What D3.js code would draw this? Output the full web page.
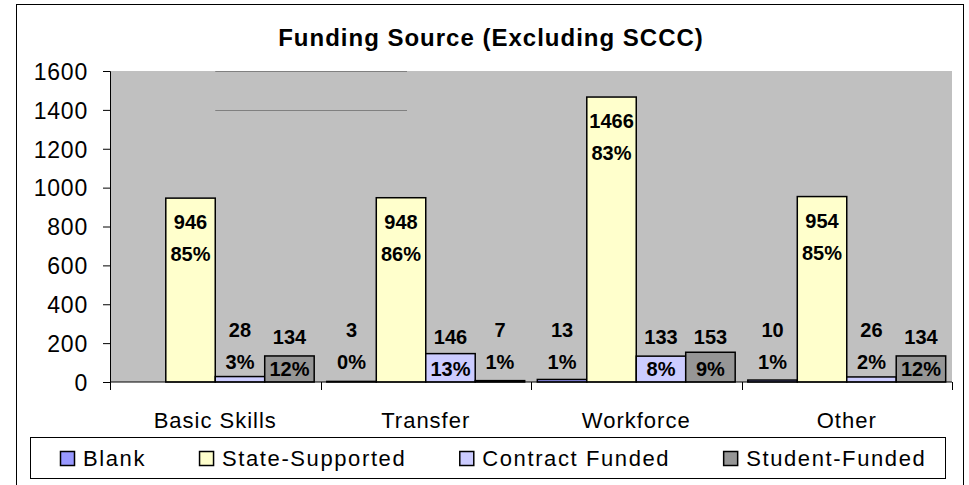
<!DOCTYPE html>
<html>
<head>
<meta charset="utf-8">
<script src="https://cdn.jsdelivr.net/npm/d3@7"></script>
<style>
  body { margin: 0; background: #fff; }
  text { font-family: "Liberation Sans", Arial, sans-serif; fill: #000; }
</style>
</head>
<body>
<div id="chart"></div>
<script>
var width = 969;
var height = 485;
var fontFamily = "'Liberation Sans', Arial, sans-serif";

// data
var categories = ["Basic Skills", "Transfer", "Workforce", "Other"];
var series = ["Blank", "State-Supported", "Contract Funded", "Student-Funded"];
var blank = [null, 3, 13, 10];
var stateSupported = [946, 948, 1466, 954];
var contractFunded = [28, 146, 133, 26];
var studentFunded = [134, 7, 153, 134];
var yTicks = [0, 200, 400, 600, 800, 1000, 1200, 1400, 1600];
var colors = ["#9999FF", "#FFFFCC", "#CCCCFF", "#969696"];

var seriesValues = [blank, stateSupported, contractFunded, studentFunded];

var rows = [];
categories.forEach(function (c, i) {
  var total = d3.sum(seriesValues, function (s) { return s[i] || 0; });
  series.forEach(function (s, j) {
    rows.push({ cat: c, series: s, idx: j, value: seriesValues[j][i], total: total });
  });
});

var plot = { left: 110, right: 952, top: 71, bottom: 382 };

var svg = d3.select("#chart").append("svg")
  .attr("width", width)
  .attr("height", height);

// outer frame
svg.append("rect")
  .attr("x", 16.5).attr("y", 4.5)
  .attr("width", 947).attr("height", 490)
  .attr("fill", "#fff").attr("stroke", "#000").attr("stroke-width", 1);

var yScale = d3.scaleLinear().domain([0, 1600]).range([plot.bottom, plot.top]);
var x0 = d3.scaleBand().domain(categories).range([plot.left, plot.right])
  .paddingInner(0.06).paddingOuter(0.03);
var x1 = d3.scaleBand().domain(series).range([0, x0.bandwidth()]);

// plot area
svg.append("rect")
  .attr("x", plot.left).attr("y", plot.top)
  .attr("width", plot.right - plot.left).attr("height", plot.bottom - plot.top)
  .attr("fill", "#C0C0C0");

// stray gridline pieces seen in the original
[1400, 1600].forEach(function (v) {
  svg.append("line")
    .attr("x1", x0("Basic Skills") + x1("Contract Funded")).attr("x2", 407)
    .attr("y1", Math.round(yScale(v)) + 0.5).attr("y2", Math.round(yScale(v)) + 0.5)
    .attr("stroke", "#808080").attr("stroke-width", 1);
});

// title
svg.append("text")
  .attr("x", 491).attr("y", 46)
  .attr("text-anchor", "middle")
  .attr("font-size", "24px").attr("font-weight", "bold")
  .attr("letter-spacing", "1px")
  .text("Funding Source (Excluding SCCC)");

// bars
svg.append("g").selectAll("rect")
  .data(rows.filter(function (d) { return d.value != null; }))
  .enter().append("rect")
  .attr("x", function (d) { return x0(d.cat) + x1(d.series); })
  .attr("y", function (d) { return yScale(d.value); })
  .attr("width", x1.bandwidth())
  .attr("height", function (d) { return yScale(0) - yScale(d.value); })
  .attr("fill", function (d) { return colors[d.idx]; })
  .attr("stroke", "#000").attr("stroke-width", 1.5);

// y axis
var yAxis = d3.axisLeft(yScale).tickValues(yTicks).tickFormat(d3.format("d"))
  .tickSize(7).tickPadding(15);
var gy = svg.append("g").attr("transform", "translate(" + plot.left + ",0)").call(yAxis);
gy.selectAll("text").attr("font-size", "23px").attr("letter-spacing", "0.8px")
  .attr("font-family", fontFamily).attr("dy", "0.36em");
gy.selectAll("line, path").attr("stroke", "#000");

// x axis: labels centred, ticks at category boundaries
var xAxis = d3.axisBottom(x0).tickSize(0).tickPadding(30);
var gx = svg.append("g").attr("transform", "translate(0," + plot.bottom + ")").call(xAxis);
gx.select("path").remove();
gx.selectAll("text").attr("font-size", "22px").attr("letter-spacing", "1px")
  .attr("font-family", fontFamily);
gx.append("line").attr("x1", plot.left).attr("x2", plot.right)
  .attr("y1", 0).attr("y2", 0).attr("stroke", "#000");
var bounds = categories.map(function (c) { return x0(c) - x0.step() * x0.paddingOuter(); });
bounds.push(plot.right);
gx.selectAll(".bound").data(bounds).enter().append("line")
  .attr("x1", function (d) { return Math.round(d) + 0.5; })
  .attr("x2", function (d) { return Math.round(d) + 0.5; })
  .attr("y1", 0).attr("y2", 8).attr("stroke", "#000");

// data labels: value and share of the category total
function labelTop(d) {
  if (d.value > 500) return yScale(d.value) + 31;
  if (d.value >= 100) return yScale(0) - 38;
  return yScale(0) - 45;
}
var lab = svg.append("g").selectAll("g")
  .data(rows.filter(function (d) { return d.value != null; }))
  .enter().append("g")
  .attr("transform", function (d) {
    return "translate(" + (x0(d.cat) + x1(d.series) + x1.bandwidth() / 2) + "," + labelTop(d) + ")";
  });
lab.append("text")
  .attr("text-anchor", "middle").attr("font-size", "20px").attr("font-weight", "bold")
  .text(function (d) { return d.value; });
lab.append("text")
  .attr("y", 32)
  .attr("text-anchor", "middle").attr("font-size", "20px").attr("font-weight", "bold")
  .text(function (d) { return Math.round(d.value / d.total * 100) + "%"; });

// legend
var legend = svg.append("g");
legend.append("rect")
  .attr("x", 30.5).attr("y", 437.5).attr("width", 915).attr("height", 41)
  .attr("fill", "#fff").attr("stroke", "#000").attr("stroke-width", 1);
var lx = 60;
series.forEach(function (s, i) {
  legend.append("rect")
    .attr("x", lx + 0.5).attr("y", 451.5).attr("width", 14).attr("height", 14)
    .attr("fill", colors[i]).attr("stroke", "#000").attr("stroke-width", 1.5);
  var t = legend.append("text")
    .attr("x", lx + 23).attr("y", 466)
    .attr("font-size", "22px").attr("letter-spacing", "1.6px")
    .text(s);
  lx = lx + 23 + t.node().getComputedTextLength() + 53;
});
</script>
</body>
</html>
